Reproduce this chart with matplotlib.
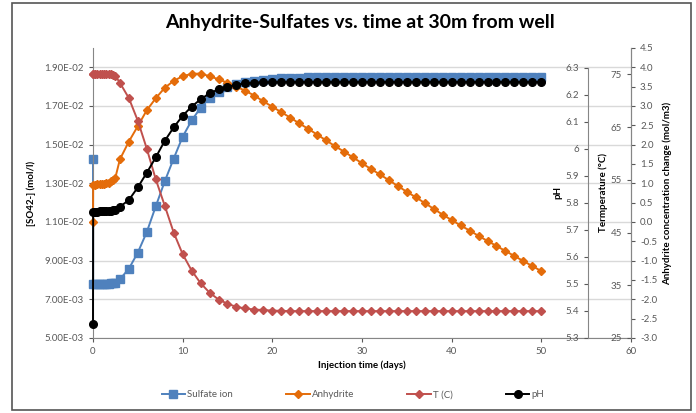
import matplotlib
matplotlib.use("Agg")
import matplotlib.pyplot as plt
from matplotlib.ticker import FormatStrFormatter, FuncFormatter
from matplotlib.patches import Rectangle

plt.rcParams['font.family'] = ['Lato', 'DejaVu Sans']

# time axis (days): initial state, dense early output, then daily
days = [0, 0.02, 0.25, 0.5, 0.75, 1.0, 1.25, 1.5, 1.75, 2.0, 2.25, 2.5] + list(range(3, 51))

sulfate = [14.27, 7.80, 7.80, 7.80, 7.80, 7.80, 7.80, 7.81, 7.81, 7.82, 7.83, 7.85,
           8.04, 8.58, 9.42, 10.48, 11.81, 13.10, 14.28, 15.41, 16.25, 16.91, 17.39, 17.74,
           18.00, 18.13, 18.24, 18.29, 18.36, 18.41, 18.44, 18.46, 18.47, 18.48, 18.49, 18.49,
           18.50, 18.50, 18.50, 18.50, 18.50, 18.50, 18.50, 18.50, 18.50, 18.50, 18.50, 18.50,
           18.50, 18.50, 18.50, 18.50, 18.50, 18.50, 18.50, 18.50, 18.50, 18.50, 18.50, 18.50]
sulfate = [v * 1e-3 for v in sulfate]

anhydrite = [0.00, 0.96, 0.96, 0.97, 0.97, 0.98, 0.99, 1.00, 1.02, 1.05, 1.09, 1.15,
             1.62, 2.08, 2.48, 2.89, 3.20, 3.47, 3.65, 3.77, 3.83, 3.84, 3.77, 3.69,
             3.60, 3.50, 3.39, 3.27, 3.12, 2.98, 2.84, 2.70, 2.55, 2.41, 2.26, 2.11,
             1.96, 1.82, 1.67, 1.52, 1.37, 1.23, 1.08, 0.93, 0.78, 0.64, 0.49, 0.34,
             0.19, 0.05, -0.09, -0.22, -0.36, -0.49, -0.62, -0.75, -0.88, -1.01, -1.14, -1.27]

temp = [75.0, 75.0, 75.0, 75.0, 75.0, 75.0, 75.0, 75.0, 75.0, 75.0, 74.9, 74.7,
        73.4, 70.5, 66.2, 60.9, 55.1, 50.1, 45.0, 40.9, 37.8, 35.4, 33.6, 32.3,
        31.5, 30.9, 30.6, 30.4, 30.3, 30.2, 30.15, 30.1, 30.1, 30.1, 30.1, 30.1,
        30.1, 30.1, 30.1, 30.1, 30.1, 30.1, 30.1, 30.1, 30.1, 30.1, 30.1, 30.1,
        30.1, 30.1, 30.1, 30.1, 30.1, 30.1, 30.1, 30.1, 30.1, 30.1, 30.1, 30.1]

ph = [5.351, 5.768, 5.768, 5.768, 5.769, 5.769, 5.770, 5.770, 5.771, 5.772, 5.773, 5.775,
      5.786, 5.811, 5.858, 5.912, 5.969, 6.030, 6.080, 6.123, 6.157, 6.184, 6.206, 6.221,
      6.231, 6.238, 6.243, 6.246, 6.247, 6.247, 6.248, 6.248, 6.248, 6.248, 6.248, 6.248,
      6.248, 6.248, 6.248, 6.248, 6.248, 6.248, 6.248, 6.248, 6.248, 6.248, 6.248, 6.248,
      6.248, 6.248, 6.248, 6.248, 6.248, 6.248, 6.248, 6.248, 6.248, 6.248, 6.248, 6.248]

so4_ticks = [5e-3, 7e-3, 9e-3, 11e-3, 13e-3, 15e-3, 17e-3, 19e-3]
ph_ticks = [5.3, 5.4, 5.5, 5.6, 5.7, 5.8, 5.9, 6.0, 6.1, 6.2, 6.3]
temp_ticks = [25, 35, 45, 55, 65, 75]
anh_ticks = [-3.0, -2.5, -2.0, -1.5, -1.0, -0.5, 0.0, 0.5, 1.0, 1.5, 2.0, 2.5, 3.0, 3.5, 4.0, 4.5]

c_blue = '#4F81BD'
c_orange = '#E46C0A'
c_red = '#C0504D'
c_black = '#000000'
tick_col = '#595959'
spine_col = '#868686'

fig = plt.figure(figsize=(6.96, 4.13), dpi=100)
ax = fig.add_axes([0.1336, 0.1816, 0.773, 0.7022])

ax.set_xlim(0, 60)
ax.set_ylim(5e-3, 2.0e-2)
ax.set_xticks(range(0, 61, 10))
ax.set_yticks(so4_ticks)
ax.yaxis.set_major_formatter(FuncFormatter(lambda v, p: '%.2E' % v))
ax.grid(axis='y', color='#D9D9D9', lw=1)
ax.set_axisbelow(True)
for s in ['top', 'right']:
    ax.spines[s].set_visible(False)
for s in ['left', 'bottom']:
    ax.spines[s].set_color(spine_col)
ax.tick_params(colors=tick_col, labelsize=7, length=3, width=0.8)
ax.set_xlabel('Injection time (days)', fontsize=7, fontweight='bold', labelpad=3)
ax.set_ylabel('[SO42-] (mol/l)', fontsize=7, fontweight='bold', labelpad=6)

l1, = ax.plot(days, sulfate, '-s', color=c_blue, ms=5.5, lw=1.4, label='Sulfate ion',
              clip_on=False)

# anhydrite axis, far right
ax_a = ax.twinx()
ax_a.set_ylim(-3.0, 4.5)
ax_a.set_yticks(anh_ticks)
ax_a.yaxis.set_major_formatter(FormatStrFormatter('%.1f'))
for s in ['top', 'left', 'bottom']:
    ax_a.spines[s].set_visible(False)
ax_a.spines['right'].set_color(spine_col)
ax_a.tick_params(colors=tick_col, labelsize=7, length=3, width=0.8)
ax_a.set_ylabel('Anhydrite concentration change (mol/m3)', fontsize=7, fontweight='bold', labelpad=4)
l2, = ax_a.plot(days, anhydrite, '-D', color=c_orange, ms=4, lw=1.4, label='Anhydrite',
                clip_on=False)

# temperature axis, labels inside on the right edge
ax_t = ax.twinx()
ax_t.set_ylim(25, 80)
ax_t.set_yticks(temp_ticks)
for s in ['top', 'right', 'bottom', 'left']:
    ax_t.spines[s].set_visible(False)
ax_t.spines['left'].set_visible(True)
ax_t.spines['left'].set_position(('axes', 1.0))
ax_t.spines['left'].set_color(spine_col)
ax_t.yaxis.set_ticks_position('left')
ax_t.yaxis.set_label_position('left')
ax_t.tick_params(colors=tick_col, labelsize=7, length=3, width=0.8)
ax_t.set_ylabel('Termperature (°C)', fontsize=7, fontweight='bold', labelpad=2)
l3, = ax_t.plot(days, temp, '-D', color=c_red, ms=4, lw=1.4, label='T (C)', clip_on=False)

# pH axis, short, inside the plot
ax_p = ax.twinx()
ax_p.set_ylim(5.3, 5.3 + 290 / 270)
ax_p.set_yticks(ph_ticks)
ax_p.yaxis.set_major_formatter(FuncFormatter(lambda v, p: '%g' % round(v, 1)))
for s in ['top', 'right', 'bottom', 'left']:
    ax_p.spines[s].set_visible(False)
ax_p.spines['left'].set_visible(True)
ax_p.spines['left'].set_position(('axes', 0.92))
ax_p.spines['left'].set_bounds(5.3, 6.3)
ax_p.spines['left'].set_color(spine_col)
ax_p.yaxis.set_ticks_position('left')
ax_p.yaxis.set_label_position('left')
ax_p.tick_params(colors=tick_col, labelsize=7, length=3, width=0.8)
ax_p.set_ylabel('pH', fontsize=7, fontweight='bold', labelpad=2)
l4, = ax_p.plot(days, ph, '-o', color=c_black, ms=5.5, lw=1.4, label='pH', clip_on=False)

fig.suptitle('Anhydrite-Sulfates vs. time at 30m from well', x=0.517, y=0.967,
             fontsize=14, fontweight='bold')

fig.legend(handles=[l1, l2, l3, l4], loc='center', bbox_to_anchor=(0.507, 0.044),
           ncol=4, frameon=False, fontsize=7, handlelength=2.4, handletextpad=0.2,
           columnspacing=5.5, labelcolor=tick_col)

fig.patches.append(Rectangle((0.0172, 0.0073), 0.9756, 0.9855, transform=fig.transFigure,
                             fill=False, edgecolor='#555555', lw=1.2))

fig.savefig('out.png', dpi=100)
